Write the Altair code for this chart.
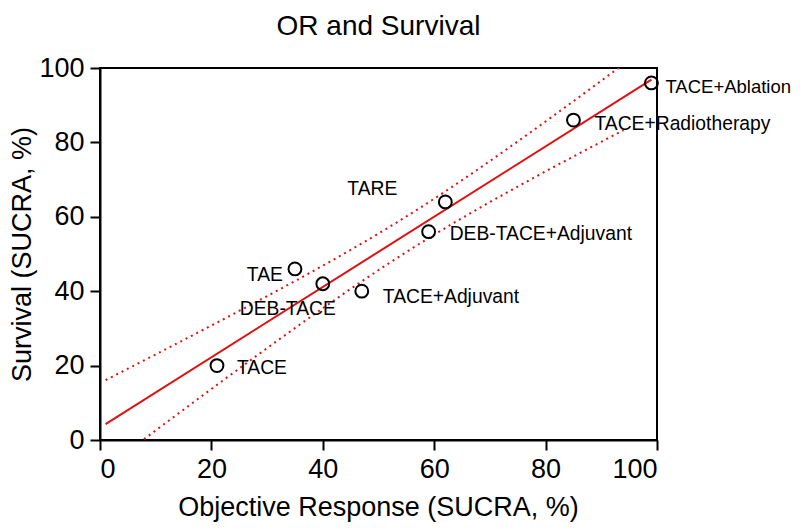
import numpy as np
import pandas as pd
import altair as alt

# ---- data ----
chart_title = "OR and Survival"
treatments = ["TACE+Ablation", "TACE+Radiotherapy", "TARE", "DEB-TACE+Adjuvant",
              "TAE", "DEB-TACE", "TACE+Adjuvant", "TACE"]
or_sucra = [99, 85, 62, 59, 35, 40, 47, 21]
surv_sucra = [96, 86, 64, 56, 46, 42, 40, 20]
x_ticks = [0, 20, 40, 60, 80, 100]
y_ticks = [0, 20, 40, 60, 80, 100]

df = pd.DataFrame({"treatment": treatments, "or_sucra": or_sucra, "surv_sucra": surv_sucra})

# ---- 95% confidence band of the regression line, derived from the points ----
xa = np.array(or_sucra, float)
ya = np.array(surv_sucra, float)
n = len(xa)
slope, intercept = np.polyfit(xa, ya, 1)
resid = ya - (intercept + slope * xa)
s = np.sqrt((resid ** 2).sum() / (n - 2))
sxx = ((xa - xa.mean()) ** 2).sum()
t975 = 2.446912  # t quantile, 6 degrees of freedom
grid = np.linspace(1, 94, 160)
fit = intercept + slope * grid
half = t975 * s * np.sqrt(1.0 / n + (grid - xa.mean()) ** 2 / sxx)
ci_df = pd.concat([
    pd.DataFrame({"or_sucra": grid, "surv_sucra": fit + half, "band": "upper"}),
    pd.DataFrame({"or_sucra": grid, "surv_sucra": fit - half, "band": "lower"}),
])

FONT = "Liberation Sans"
RED = "#dd1111"

xs = alt.Scale(domain=[0, 100], nice=False)
ys = alt.Scale(domain=[0, 100], nice=False)

x_enc = alt.X("or_sucra:Q", scale=xs, axis=alt.Axis(
    values=x_ticks, format="d", title="Objective Response (SUCRA, %)",
    titleX=278, titleY=67, titleAlign="center", titleBaseline="middle"))
y_enc = alt.Y("surv_sucra:Q", scale=ys, axis=alt.Axis(
    values=y_ticks, format="d", title="Survival (SUCRA, %)",
    titleX=-78, titleY=186, titleAlign="center", titleBaseline="middle", titleAngle=-90))

base = alt.Chart(df)

ci = alt.Chart(ci_df).mark_line(color=RED, strokeWidth=2, strokeDash=[2, 4], clip=True).encode(
    x=x_enc, y=y_enc, detail="band:N")

reg = base.transform_regression("or_sucra", "surv_sucra", extent=[1, 99]).mark_line(
    color=RED, strokeWidth=2, clip=True).encode(x=x_enc, y=y_enc)

pts = base.mark_point(shape="circle", size=165, filled=False, color="black",
                      strokeWidth=2, opacity=1).encode(x=x_enc, y=y_enc)

label_style = {
    "TACE+Ablation": dict(align="left", dx=14, dy=4, fontSize=18.5),
    "TACE+Radiotherapy": dict(align="left", dx=21, dy=4, fontSize=19.3),
    "TARE": dict(align="center", dx=-73, dy=-13, fontSize=19.3),
    "DEB-TACE+Adjuvant": dict(align="left", dx=21, dy=2, fontSize=19.3),
    "TAE": dict(align="right", dx=-12, dy=6, fontSize=19.3),
    "DEB-TACE": dict(align="center", dx=-35, dy=25, fontSize=19.3),
    "TACE+Adjuvant": dict(align="left", dx=21, dy=6, fontSize=19.3),
    "TACE": dict(align="left", dx=20, dy=2, fontSize=19.3),
}

labels = []
for name in treatments:
    st = label_style[name]
    labels.append(
        base.transform_filter(alt.datum.treatment == name).mark_text(
            font=FONT, color="black", baseline="middle", **st
        ).encode(x=x_enc, y=y_enc, text="treatment:N")
    )

# chart title drawn as a text mark above the plot area
title_df = pd.DataFrame({"t": [chart_title]})
title_mark = alt.Chart(title_df).mark_text(
    font=FONT, fontSize=28, color="black", align="center", baseline="alphabetic"
).encode(x=alt.value(278.5), y=alt.value(-33), text="t:N")

chart = alt.layer(ci, reg, pts, *labels, title_mark).properties(
    width=557, height=372,
    autosize=alt.AutoSizeParams(type="none"),
    padding={"left": 92, "top": 60, "right": 134, "bottom": 84},
).configure_view(stroke="black", strokeWidth=2).configure_axis(
    grid=False, domainColor="black", domainWidth=2, tickColor="black", tickWidth=2,
    tickSize=10, labelFont=FONT, labelFontSize=27, labelColor="black", labelPadding=6,
    titleFont=FONT, titleFontSize=27, titleColor="black", titleFontWeight="normal",
)

chart.save("out.html", embed_options={"renderer": "svg", "actions": False})
